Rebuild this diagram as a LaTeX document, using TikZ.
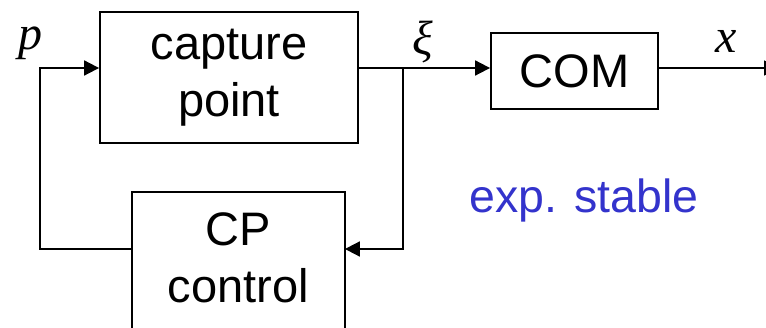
\documentclass[tikz,border=0pt]{standalone}
\usepackage{fontspec}
\setmainfont{Liberation Sans}
\newfontfamily\tms{Liberation Serif}
\usetikzlibrary{arrows.meta}
\definecolor{stableblue}{RGB}{51,51,204}
\begin{document}
\begin{tikzpicture}[x=1pt,y=-1pt,
  block/.style={draw,line width=1.8pt,inner sep=0pt,align=center,
    font=\fontsize{47}{57}\selectfont},
  wire/.style={line width=1.8pt},
  sig/.style={wire,-{Triangle[length=15pt,width=15pt]}},
  var/.style={font=\tms\itshape\fontsize{48}{48}\selectfont,inner sep=0pt}]
\useasboundingbox (0,0) rectangle (766,328);
% blocks
\node[block,minimum width=258pt,minimum height=131pt] (cp) at (229,77.5) {capture\\point};
\node[block,minimum width=167pt,minimum height=76pt] (com) at (574.5,71) {COM};
\node[block,draw=none,minimum width=211pt,minimum height=130pt] (ctl) at (238.5,258) {CP\\control};
% the controller block runs on below the lower edge of the page
\draw[wire] ([yshift=-14pt]ctl.south west) -- (ctl.north west) -- (ctl.north east) -- ([yshift=-14pt]ctl.south east);
% junction and loop corners
\coordinate (j) at (403,68);
\coordinate (jd) at (403,249);
\coordinate (ll) at (40,249);
\coordinate (lu) at (40,68);
\coordinate (out) at (779,68);
% signals
\draw[sig] (cp.east |- j) -- (com.west |- j);
\draw[sig] (j) -- (jd) -- (ctl.east |- jd);
\draw[sig] (ctl.west |- ll) -- (ll) -- (lu) -- (cp.west |- lu);
\draw[sig] (com.east |- out) -- (out);
% labels
\node[var,anchor=base] (lp) at (30,50) {p};
\node[var,anchor=base] (lxi) at (423,55) {ξ};
\node[var,anchor=base] (lx) at (726,53) {x};
\node[text=stableblue,font=\fontsize{46.5}{46.5}\selectfont,anchor=base,inner sep=0pt] (st) at (584,213) {exp. stable};
\end{tikzpicture}
\end{document}
